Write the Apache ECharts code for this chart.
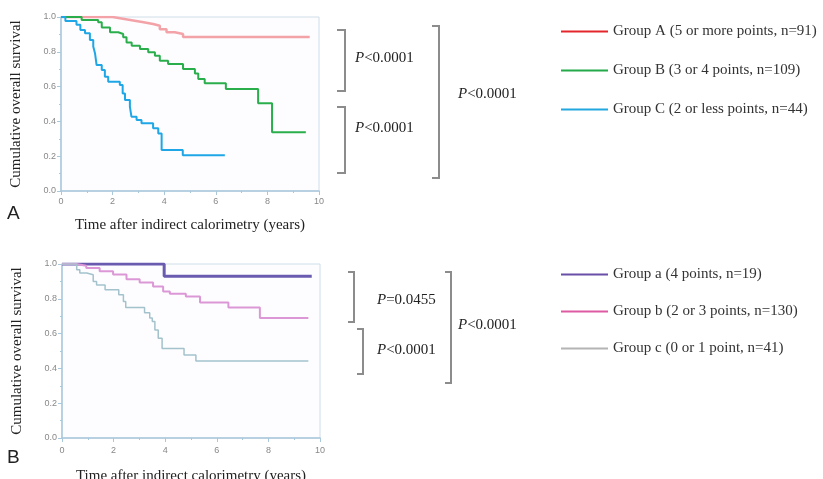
<!DOCTYPE html>
<html>
<head>
<meta charset="utf-8">
<script src="https://cdn.jsdelivr.net/npm/echarts@6/dist/echarts.min.js"></script>
<style>
  html, body { margin: 0; padding: 0; background: #fff; }
  #chart { width: 823px; height: 479px; }
</style>
</head>
<body>
<div id="chart"></div>
<script>
// survival curves, [years, survival] at each step
var groupA = [[0,1],[2.0,0.99],[2.4,0.98],[2.8,0.97],[3.2,0.96],[3.57,0.95],[3.83,0.93],[4.09,0.912],[4.41,0.902],[4.73,0.885],[9.64,0.885]]
var groupB = [[0,1],[0.8,0.983],[1.44,0.97],[1.58,0.94],[1.9,0.912],[2.22,0.902],[2.41,0.883],[2.54,0.854],[2.74,0.835],[3.06,0.816],[3.38,0.797],[3.64,0.778],[3.83,0.749],[4.15,0.73],[4.73,0.701],[5.19,0.676],[5.32,0.644],[5.57,0.619],[6.39,0.586],[7.64,0.504],[8.18,0.337],[9.49,0.337]]
var groupC = [[0,1],[0.17,0.977],[0.6,0.955],[0.75,0.925],[0.93,0.906],[1.12,0.868],[1.25,0.83],[1.32,0.79],[1.38,0.724],[1.58,0.695],[1.7,0.657],[1.83,0.628],[2.28,0.609],[2.39,0.561],[2.48,0.523],[2.67,0.485],[2.73,0.427],[2.93,0.408],[3.12,0.389],[3.57,0.36],[3.77,0.33],[3.9,0.236],[4.72,0.205],[6.35,0.205]]

var groupa = [[0,1],[3.96,0.929],[9.68,0.929]]
var groupb = [[0,1],[0.56,0.99],[0.94,0.977],[1.46,0.958],[1.98,0.94],[2.5,0.913],[3.01,0.894],[3.53,0.87],[3.92,0.842],[4.18,0.829],[4.8,0.813],[5.35,0.779],[6.45,0.75],[7.67,0.689],[9.55,0.689]]
var groupc = [[0,1],[0.57,0.967],[0.69,0.948],[0.96,0.938],[1.21,0.9],[1.34,0.88],[1.67,0.852],[2.2,0.823],[2.38,0.785],[2.47,0.75],[3.2,0.72],[3.4,0.69],[3.5,0.669],[3.6,0.621],[3.73,0.573],[3.88,0.515],[4.73,0.477],[5.19,0.443],[9.55,0.443]]

var namesTop = ['Group A (5 or more points, n=91)', 'Group B (3 or 4 points, n=109)', 'Group C (2 or less points, n=44)']
var namesBottom = ['Group a (4 points, n=19)', 'Group b (2 or 3 points, n=130)', 'Group c (0 or 1 point, n=41)']
var legendColorsTop = ['#e4262c', '#24a94b', '#23a7e0']
var legendColorsBottom = ['#6a4fa8', '#de5aa2', '#b4b4b4']

var serif = "'Liberation Serif', 'Times New Roman', serif"
var axisBlue = '#a9c8dc'

function xAxisFor(grid, gap, labelMargin) {
    return {
        type: 'value', gridIndex: grid, min: 0, max: 10, interval: 2,
        name: 'Time after indirect calorimetry (years)',
        nameLocation: 'middle', nameGap: gap,
        nameTextStyle: { fontFamily: serif, fontSize: 15, color: '#222' },
        axisLine: { lineStyle: { color: axisBlue, width: 1.5 } },
        axisTick: { show: true, length: 4, lineStyle: { color: axisBlue } },
        minorTick: { show: true, splitNumber: 2, length: 2, lineStyle: { color: axisBlue } },
        axisLabel: { fontSize: 9, color: '#888', margin: labelMargin },
        splitLine: { show: false }
    }
}
function yAxisFor(grid) {
    return {
        type: 'value', gridIndex: grid, min: 0, max: 1, interval: 0.2,
        name: 'Cumulative overall survival',
        nameLocation: 'middle', nameGap: 37, nameRotate: 90,
        nameTextStyle: { fontFamily: serif, fontSize: 15, color: '#222' },
        axisLine: { show: true, lineStyle: { color: axisBlue, width: 1.5 } },
        axisTick: { show: true, length: 4, lineStyle: { color: axisBlue } },
        minorTick: { show: true, splitNumber: 2, length: 2, lineStyle: { color: axisBlue } },
        axisLabel: { fontSize: 9, color: '#888', margin: 5, formatter: function (v) { return v.toFixed(1) } },
        splitLine: { show: false }
    }
}
function curve(name, data, grid, color, width) {
    return {
        name: name, type: 'line', step: 'end', data: data,
        xAxisIndex: grid, yAxisIndex: grid,
        symbol: 'none', lineStyle: { color: color, width: width }, itemStyle: { color: color },
        silent: true, animation: false
    }
}
function legendFor(names, colors, top, gap) {
    return {
        orient: 'vertical', left: 555, top: top, itemWidth: 47, itemHeight: 14, itemGap: gap,
        selectedMode: false,
        textStyle: { fontFamily: serif, fontSize: 15, color: '#333' },
        data: names.map(function (n, i) {
            return { name: n, itemStyle: { opacity: 0 }, lineStyle: { color: colors[i], width: 2 } }
        })
    }
}
function bracket(x0, x1, y0, y1) {
    return {
        type: 'polyline', silent: true,
        shape: { points: [[x0, y0], [x1, y0], [x1, y1], [x0, y1]] },
        style: { stroke: '#8c8c8c', lineWidth: 2, fill: null }
    }
}
function pText(x, y, rest) {
    return {
        type: 'text', left: x, top: y - 9, silent: true,
        style: {
            text: '{i|P}' + rest,
            font: '15px ' + serif, fill: '#222',
            rich: { i: { fontStyle: 'italic', fontFamily: serif, fontSize: 15, fill: '#222' } }
        }
    }
}

var chart = echarts.init(document.getElementById('chart'))
chart.setOption({
    animation: false,
    grid: [
        { left: 61, top: 17, width: 258, height: 174, outerBoundsMode: 'none', show: true, backgroundColor: '#fdfdff', borderColor: '#cfdde8', borderWidth: 1 },
        { left: 62, top: 264, width: 258, height: 174, outerBoundsMode: 'none', show: true, backgroundColor: '#fdfdff', borderColor: '#cfdde8', borderWidth: 1 }
    ],
    xAxis: [xAxisFor(0, 27, 6), xAxisFor(1, 31, 8)],
    yAxis: [yAxisFor(0), yAxisFor(1)],
    legend: [legendFor(namesTop, legendColorsTop, 19, 24), legendFor(namesBottom, legendColorsBottom, 262, 22)],
    series: [
        curve(namesTop[0], groupA, 0, '#f3a3a8', 2.5),
        curve(namesTop[1], groupB, 0, '#2aae4c', 2),
        curve(namesTop[2], groupC, 0, '#1ea6e6', 2),
        curve(namesBottom[0], groupa, 1, '#6a5bb0', 3),
        curve(namesBottom[1], groupb, 1, '#dc98d6', 2),
        curve(namesBottom[2], groupc, 1, '#a3c2cb', 1.5)
    ],
    graphic: [
        { type: 'text', left: 7, top: 204, style: { text: 'A', font: "19px 'Liberation Sans', Arial, sans-serif", fill: '#222' } },
        { type: 'text', left: 7, top: 448, style: { text: 'B', font: "19px 'Liberation Sans', Arial, sans-serif", fill: '#222' } },
        bracket(337, 345, 30, 91),
        bracket(337, 345, 107, 173),
        bracket(432, 439, 26, 178),
        pText(355, 60, '<0.0001'),
        pText(355, 130, '<0.0001'),
        pText(458, 96, '<0.0001'),
        bracket(348, 354, 272, 322),
        bracket(357, 363, 329, 374),
        bracket(445, 451, 272, 383),
        pText(377, 302, '=0.0455'),
        pText(377, 352, '<0.0001'),
        pText(458, 327, '<0.0001')
    ]
})
</script>
</body>
</html>
